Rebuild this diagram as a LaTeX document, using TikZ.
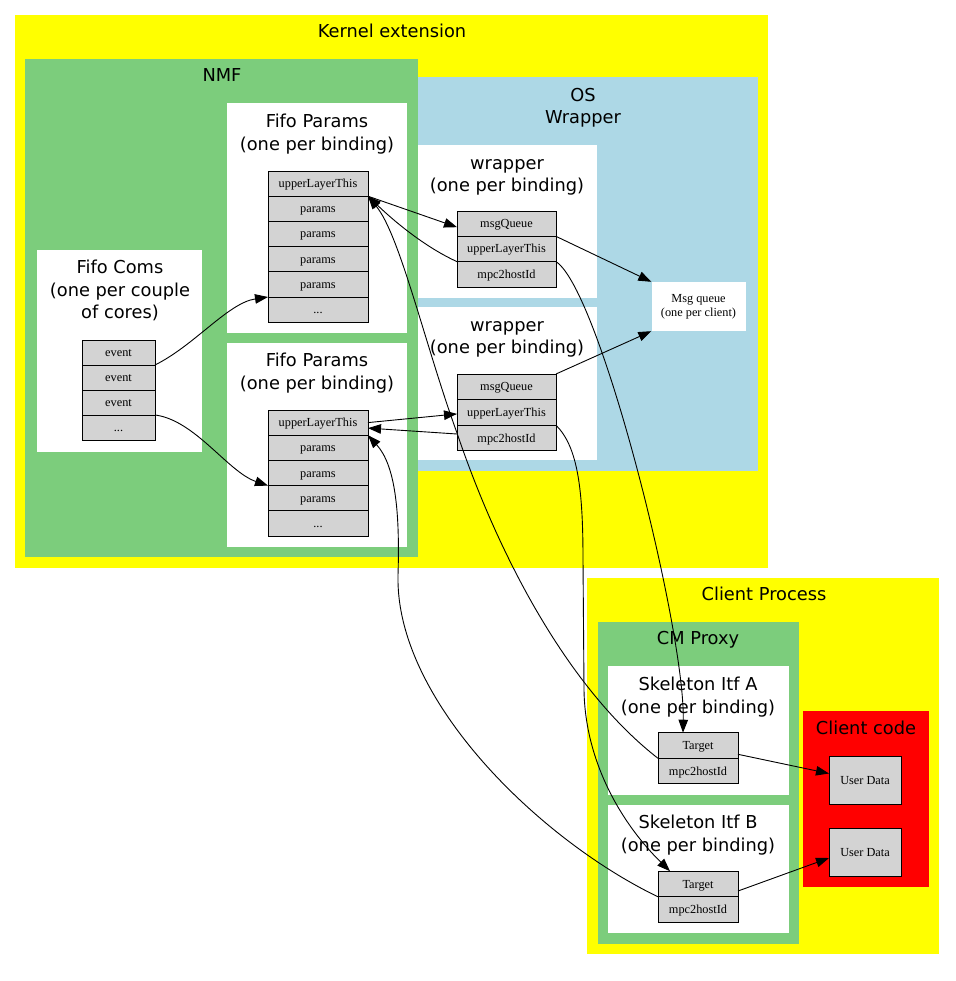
\documentclass[tikz,border=0pt]{standalone}
\usepackage{fontspec}
\usetikzlibrary{arrows.meta,fit}
\newfontfamily\labfnt{DejaVu Sans}
\newfontfamily\recfnt{Liberation Serif}
\definecolor{kyellow}{HTML}{FFFF00}
\definecolor{nmfgreen}{HTML}{7CCD7C}
\definecolor{oslblue}{HTML}{ADD8E6}
\definecolor{recgray}{HTML}{D3D3D3}
\definecolor{ccred}{HTML}{FF0000}
\begin{document}
\begin{tikzpicture}[x=1pt,y=-1pt,
  cluster/.style={inner sep=0pt, outer sep=0pt, draw=none},
  lab/.style={font=\labfnt\fontsize{17.8}{22.5}\selectfont, align=center, inner sep=0pt, yshift=-1.5pt},
  rrow/.style={draw=black, fill=recgray, line width=0.9pt, inner sep=0pt, outer sep=0pt,
    text height=8pt, text depth=0pt, font=\recfnt\fontsize{12.3}{14}\selectfont},
  rfp/.style={rrow, minimum width=100pt, minimum height=25.2pt},
  rfc/.style={rrow, minimum width=73pt, minimum height=25pt},
  rw1/.style={rrow, minimum width=99pt, minimum height=25.3pt},
  rw2/.style={rrow, minimum width=99pt, minimum height=25.6pt},
  rsk/.style={rrow, minimum width=80pt, minimum height=25.6pt},
  conn/.style={draw=black, line width=0.9pt, -{Triangle[length=13pt,width=9.5pt]}}
]
\useasboundingbox (0,0) rectangle (955,981);
\fill[white] (0,0) rectangle (955,981);

% clusters
\node[cluster, fill=kyellow, fit={(15,15) (768,568)}] (kext) {};
\node[cluster, fill=nmfgreen, fit={(25,59) (418,557)}] (nmf) {};
\node[cluster, fill=oslblue, fit={(418,77) (758,471)}] (osw) {};
\node[cluster, fill=white, fit={(227,103) (407,333)}] (fp1box) {};
\node[cluster, fill=white, fit={(227,343) (407,547)}] (fp2box) {};
\node[cluster, fill=white, fit={(37,250) (202,452)}] (fcbox) {};
\node[cluster, fill=white, fit={(418,145) (597,298)}] (w1box) {};
\node[cluster, fill=white, fit={(418,307) (597,460)}] (w2box) {};
\node[cluster, fill=kyellow, fit={(587,578) (939,954)}] (cproc) {};
\node[cluster, fill=nmfgreen, fit={(598,622) (799,944)}] (cmp) {};
\node[cluster, fill=white, fit={(608,666) (789,795)}] (skabox) {};
\node[cluster, fill=white, fit={(608,805) (789,933)}] (skbbox) {};
\node[cluster, fill=ccred, fit={(803,711) (929,887)}] (ccode) {};

% cluster labels
\node[lab] (kextl) at (392,31.5) {Kernel extension\strut};
\node[lab] (nmfl) at (222,75.5) {NMF\strut};
\node[lab] (oswl) at (583,106.5) {OS\strut\\Wrapper\strut};
\node[lab] (fp1l) at (317,133) {Fifo Params\strut\\(one per binding)\strut};
\node[lab] (fp2l) at (317,372) {Fifo Params\strut\\(one per binding)\strut};
\node[lab] (fcl) at (120,290) {Fifo Coms\strut\\(one per couple\strut\\of cores)\strut};
\node[lab] (w1l) at (507,174.6) {wrapper\strut\\(one per binding)\strut};
\node[lab] (w2l) at (507,336.6) {wrapper\strut\\(one per binding)\strut};
\node[lab] (cprocl) at (764,594.5) {Client Process\strut};
\node[lab] (cmpl) at (698,638.5) {CM Proxy\strut};
\node[lab] (skal) at (698,696) {Skeleton Itf A\strut\\(one per binding)\strut};
\node[lab] (skbl) at (698,834) {Skeleton Itf B\strut\\(one per binding)\strut};
\node[lab] (ccodel) at (866,728.5) {Client code\strut};

% Fifo Params 1
\node[rfp] (fp1a) at (318,183.6) {upperLayerThis};
\node[rfp] (fp1b) at (318,208.8) {params};
\node[rfp] (fp1c) at (318,234.0) {params};
\node[rfp] (fp1d) at (318,259.2) {params};
\node[rfp] (fp1e) at (318,284.4) {params};
\node[rfp] (fp1f) at (318,309.6) {...};
% Fifo Params 2
\node[rfp] (fp2a) at (318,422.6) {upperLayerThis};
\node[rfp] (fp2b) at (318,447.8) {params};
\node[rfp] (fp2c) at (318,473.0) {params};
\node[rfp] (fp2d) at (318,498.2) {params};
\node[rfp] (fp2e) at (318,523.4) {...};
% Fifo Coms
\node[rfc] (fc1) at (118.5,352.5) {event};
\node[rfc] (fc2) at (118.5,377.5) {event};
\node[rfc] (fc3) at (118.5,402.5) {event};
\node[rfc] (fc4) at (118.5,427.5) {...};
% wrapper 1
\node[rw1] (w1a) at (506.5,223.7) {msgQueue};
\node[rw1] (w1b) at (506.5,249.0) {upperLayerThis};
\node[rw1] (w1c) at (506.5,274.3) {mpc2hostId};
% wrapper 2
\node[rw2] (w2a) at (506.5,386.8) {msgQueue};
\node[rw2] (w2b) at (506.5,412.4) {upperLayerThis};
\node[rw2] (w2c) at (506.5,438.0) {mpc2hostId};
% Msg queue
\node[draw=none, fill=white, inner sep=0pt, minimum width=94pt, minimum height=49pt,
  align=center, font=\recfnt\fontsize{12.3}{14}\selectfont] (mq) at (698.5,306.5) {Msg queue\\(one per client)};
% skeletons
\node[rsk] (ska1) at (698,745.5) {Target};
\node[rsk] (ska2) at (698,771.1) {mpc2hostId};
\node[rsk] (skb1) at (698,884.0) {Target};
\node[rsk] (skb2) at (698,909.6) {mpc2hostId};
% user data
\node[rrow, minimum width=72pt, minimum height=48pt] (ud1) at (865,780) {User Data};
\node[rrow, minimum width=72pt, minimum height=48pt] (ud2) at (865,852) {User Data};

% connectors
\draw[conn] (fc1.south east) .. controls (195,345) and (228,303) .. (fp1e.south west);
\draw[conn] (fc3.south east) .. controls (195,420) and (228,472) .. (fp2c.south west);
\draw[conn] (fp1a.south east) -- ([yshift=-3.5pt]w1a.west);
\draw[conn] (w1b.south west) .. controls (425,247) and (395,222) .. (fp1a.south east);
\draw[conn] (ska1.south west) .. controls (570,690) and (500,560) .. (457,433)
   .. controls (425,345) and (400,235) .. (fp1a.south east);
\draw[conn] (fp2a.east) -- ([yshift=-1.5pt]w2b.west);
\draw[conn] ([yshift=4pt]w2c.west) -- ([yshift=-5.5pt]fp2a.east);
\draw[conn] (skb1.south west) .. controls (540,840) and (395,700) .. (398,575)
   .. controls (400,510) and (395,465) .. (fp2a.south east);
\draw[conn] (w1a.south east) -- (mq.north west);
\draw[conn] (w2a.north east) -- (mq.south west);
\draw[conn] (w1b.south east) .. controls (600,290) and (685,630) .. ([xshift=-15pt]ska1.north);
\draw[conn] (w2b.south east) .. controls (578,447) and (583,490) .. (583,560) -- (584,690)
   .. controls (585,760) and (620,822) .. ([xshift=-28pt]skb1.north);
\draw[conn] ([yshift=4pt]ska1.south east) -- ([yshift=6.5pt]ud1.west);
\draw[conn] ([yshift=-7pt]skb1.east) -- ([yshift=-6pt]ud2.west);
\end{tikzpicture}
\end{document}
